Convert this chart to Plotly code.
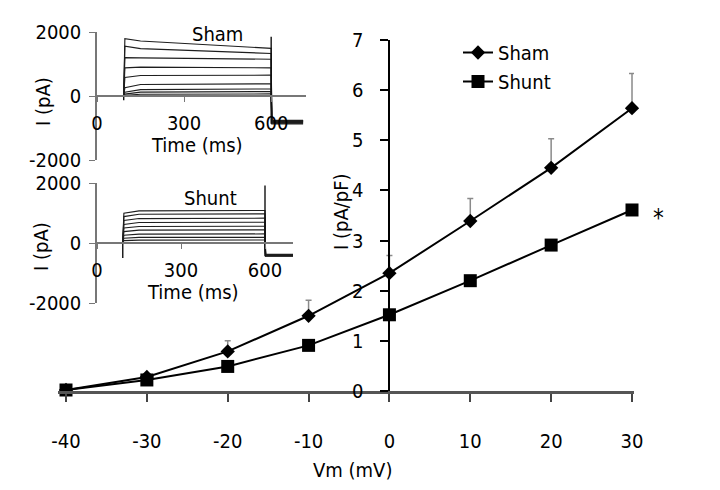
import plotly.graph_objects as go

# ---------------- main I-V data ----------------
vm = [-40, -30, -20, -10, 0, 10, 20, 30]
sham_mean = [0.02, 0.28, 0.79, 1.50, 2.35, 3.39, 4.45, 5.64]
sham_sem = [0.0, 0.05, 0.21, 0.31, 0.35, 0.45, 0.58, 0.69]
shunt_mean = [0.02, 0.22, 0.49, 0.91, 1.52, 2.20, 2.91, 3.61]
x_ticks = [-40, -30, -20, -10, 0, 10, 20, 30]
x_ticklabels = ["-40", "-30", "-20", "-10", "0", "10", "20", "30"]
y_ticks = [0, 1, 2, 3, 4, 5, 6, 7]

# ---------------- inset current traces (pA) ----------------
key_times = [0, 92, 96, 150, 600, 602, 710]   # ms
sham_onset = [1790, 1560, 1200, 880, 580, 260, 120, 60, 20]
sham_early = [1720, 1480, 1190, 900, 640, 360, 200, 120, 55]
sham_late = [1490, 1330, 1150, 880, 650, 380, 220, 140, 65]
sham_tail = [-870, -850, -830, -815, -800, -790, -780, -770, -760]
sham_spikes = [-130, 1850]

shunt_onset = [990, 880, 750, 620, 500, 380, 260, 160, 80]
shunt_early = [1070, 960, 815, 685, 550, 430, 298, 188, 98]
shunt_late = [1084, 972, 827, 693, 559, 436, 302, 190, 100]
shunt_tail = [-440, -430, -420, -410, -400, -395, -390, -385, -380]
shunt_spikes = [-500, 1920]

inset_ticks_x = [0, 300, 600]
inset_ticks_y = [-2000, 0, 2000]
inset_ticklabels_y = ["-2000", "0", "2000"]

FONT = "DejaVu Sans Condensed, Liberation Sans Narrow, sans-serif"
FS = 20
W, H = 720, 490
OFF = 8  # page body margin


def px(x):
    return (x - OFF) / W


def py(y):
    return 1 - (y - OFF) / H


fig = go.Figure()

# main traces
fig.add_trace(go.Scatter(
    x=vm, y=sham_mean, name="Sham", mode="lines+markers",
    line=dict(color="black", width=2),
    marker=dict(symbol="diamond", size=11, color="black"),
    error_y=dict(type="data", symmetric=False, array=sham_sem,
                 arrayminus=[0] * len(sham_sem), color="#8a8a8a",
                 thickness=1.5, width=3),
    cliponaxis=False, xaxis="x", yaxis="y"))
fig.add_trace(go.Scatter(
    x=vm, y=shunt_mean, name="Shunt", mode="lines+markers",
    line=dict(color="black", width=2),
    marker=dict(symbol="square", size=13, color="black"),
    cliponaxis=False, xaxis="x", yaxis="y"))


def add_sweeps(onset, early, late, tail, spikes, xa, ya):
    for i in range(len(onset)):
        yv = [0, 0, onset[i], early[i], late[i], tail[i], tail[i]]
        fig.add_trace(go.Scatter(x=key_times, y=yv, mode="lines",
                                 line=dict(color="#1e1e1e", width=1.15),
                                 showlegend=False, hoverinfo="skip",
                                 xaxis=xa, yaxis=ya))
    # capacitive transients at step onset / offset
    fig.add_trace(go.Scatter(
        x=[key_times[1], key_times[1], None, key_times[4], key_times[4]],
        y=[0, spikes[0], None, tail[0], spikes[1]],
        mode="lines", line=dict(color="#111111", width=1.4),
        showlegend=False, hoverinfo="skip", xaxis=xa, yaxis=ya))


add_sweeps(sham_onset, sham_early, sham_late, sham_tail, sham_spikes, "x2", "y2")
add_sweeps(shunt_onset, shunt_early, shunt_late, shunt_tail, shunt_spikes, "x3", "y3")

tickfont = dict(family=FONT, size=FS, color="black")

# main plot: -40 at px 66, 30 at px 632 ; 0 at py 391, 7 at py 40
x_lo, x_hi = -41, 30.25
sx = (632 - 66) / 70
left = 66 + (x_lo + 40) * sx
right = 66 + (x_hi + 40) * sx
yaxis_pos = 66 + 40 * sx

common = dict(showgrid=False, zeroline=False, automargin=False,
              tickfont=tickfont)

fig.update_layout(
    width=W, height=H,
    margin=dict(l=0, r=0, t=0, b=0, pad=0, autoexpand=False),
    paper_bgcolor="white", plot_bgcolor="rgba(0,0,0,0)",
    font=dict(family=FONT, size=FS, color="black"),
    showlegend=True,
    legend=dict(x=px(458), y=py(33), xanchor="left", yanchor="top",
                font=dict(family=FONT, size=FS), bgcolor="rgba(0,0,0,0)",
                itemwidth=30, tracegroupgap=0),
    xaxis=dict(domain=[px(left), px(right)], range=[x_lo, x_hi],
               anchor="y", tickvals=x_ticks, ticktext=x_ticklabels,
               ticks="outside", ticklen=8,
               tickwidth=2, tickcolor="#444", showline=True, linewidth=3,
               linecolor="#555", ticklabelstandoff=22, **common),
    yaxis=dict(domain=[py(391), py(40)], range=[0, 7], anchor="free",
               position=px(yaxis_pos), tickvals=y_ticks, ticks="outside",
               ticklen=8, tickwidth=2, tickcolor="black", showline=True,
               linewidth=2, linecolor="black", ticklabelstandoff=13,
               **common),
    # inset 1 (Sham)
    xaxis2=dict(domain=[px(97), px(306)], range=[0, 720], anchor="free",
                position=py(96), tickvals=inset_ticks_x, ticks="outside",
                ticklen=5, tickcolor="#777", showline=True, linewidth=1.5,
                linecolor="#777", ticklabelstandoff=4, **common),
    yaxis2=dict(domain=[py(160), py(32)], range=[-2000, 2000], anchor="x2",
                tickvals=inset_ticks_y, ticktext=inset_ticklabels_y,
                ticks="outside", ticklen=6,
                tickcolor="#777", showline=True, linewidth=1.5,
                linecolor="#777", ticklabelstandoff=4, **common),
    # inset 2 (Shunt)
    xaxis3=dict(domain=[px(97), px(293)], range=[0, 700], anchor="free",
                position=py(243), tickvals=inset_ticks_x, ticks="outside",
                ticklen=5, tickcolor="#777", showline=True, linewidth=1.5,
                linecolor="#777", ticklabelstandoff=4, **common),
    yaxis3=dict(domain=[py(303), py(183)], range=[-2000, 2000], anchor="x3",
                tickvals=inset_ticks_y, ticktext=inset_ticklabels_y,
                ticks="outside", ticklen=6,
                tickcolor="#777", showline=True, linewidth=1.5,
                linecolor="#777", ticklabelstandoff=4, **common),
)


def ann(text, x, y, angle=0, size=FS):
    fig.add_annotation(text=text, x=px(x), y=py(y), xref="paper", yref="paper",
                       showarrow=False, textangle=angle,
                       font=dict(family=FONT, size=size, color="black"),
                       xanchor="center", yanchor="middle")


ann("Vm (mV)", 352, 470)
ann("I (pA/pF)", 341, 212, angle=-90)
ann("*", 658, 218, size=24)
ann("Sham", 217, 34)
ann("Shunt", 210, 198)
ann("Time (ms)", 197, 145)
ann("Time (ms)", 193, 292)
ann("I (pA)", 43, 102, angle=-90)
ann("I (pA)", 41, 247, angle=-90)

fig.write_html("out.html")
